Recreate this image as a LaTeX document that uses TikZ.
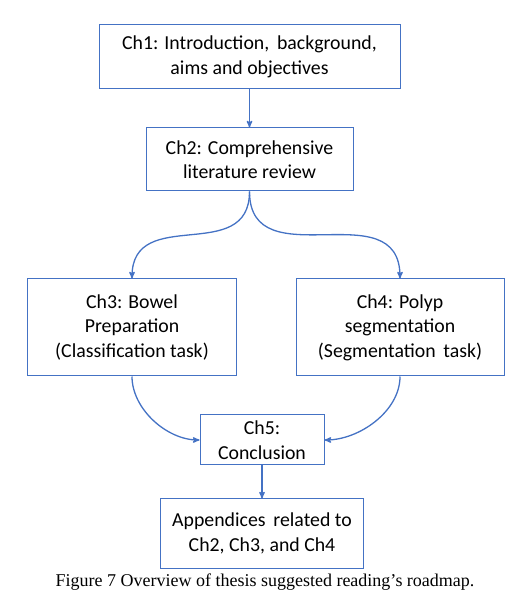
\documentclass[tikz,border=0pt]{standalone}
\usepackage{fontspec}
\setmainfont{Carlito}
\newfontfamily\capfont{Liberation Serif}
\usepackage{tikz}
\usetikzlibrary{arrows,positioning}
\definecolor{officeblue}{HTML}{4472C4}

\begin{document}
\begin{tikzpicture}[>=stealth',x=1bp,y=1bp,
                    line width=1.1bp]
\tikzset{chap/.style={draw=officeblue,line width=1bp,fill=white,text=black,align=center,
                      inner sep=2pt,font=\fontsize{19.8bp}{24.5bp}\selectfont}}
\tikzset{link/.style={->,draw=officeblue,line width=1.3bp}}

        \useasboundingbox (0,0) rectangle (526,604);

        \node[chap,minimum width=301bp,minimum height=64bp]   (ch1) at (249.5,547)     {Ch1: Introduction,\, background,\\aims and objectives};
        \node[chap,minimum width=207bp,minimum height=63bp]   (ch2) [below=38bp of ch1] {Ch2: Comprehensive\\literature review};

        \node[chap,minimum width=208bp,minimum height=97bp]   (ch3) at (132,276.5)     {Ch3: Bowel\\Preparation\\(Classification task)};
        \node[chap,minimum width=208bp,minimum height=97bp]   (ch4) [right=59bp of ch3] {Ch4: Polyp\\segmentation\\(Segmentation\, task)};

        \node[chap,minimum width=124bp,minimum height=50bp]   (ch5) at (262,164)       {Ch5:\\Conclusion};
        \node[chap,minimum width=203bp,minimum height=69bp]   (app) [below=33bp of ch5] {Appendices\, related to\\Ch2, Ch3, and Ch4};

        \node[font=\capfont\fontsize{18bp}{21bp}\selectfont,inner sep=0pt] (cap) at (265,22)
              {Figure 7 Overview of thesis suggested reading’s roadmap.};

        \path
        (ch1.south) edge [link]                                  (ch2.north)
        (ch2.south) edge [link,out=-90,in=90,looseness=1.3]      (ch3.north)
        (ch2.south) edge [link,out=-90,in=90,looseness=1.3]      (ch4.north)
        (ch3.south) edge [link,out=-90,in=180,looseness=0.9]     (ch5.west)
        (ch4.south) edge [link,out=-90,in=0,looseness=0.9]       (ch5.east)
        (ch5.south) edge [link]                                  (app.north)
        ; %end path

\end{tikzpicture}
\end{document}
